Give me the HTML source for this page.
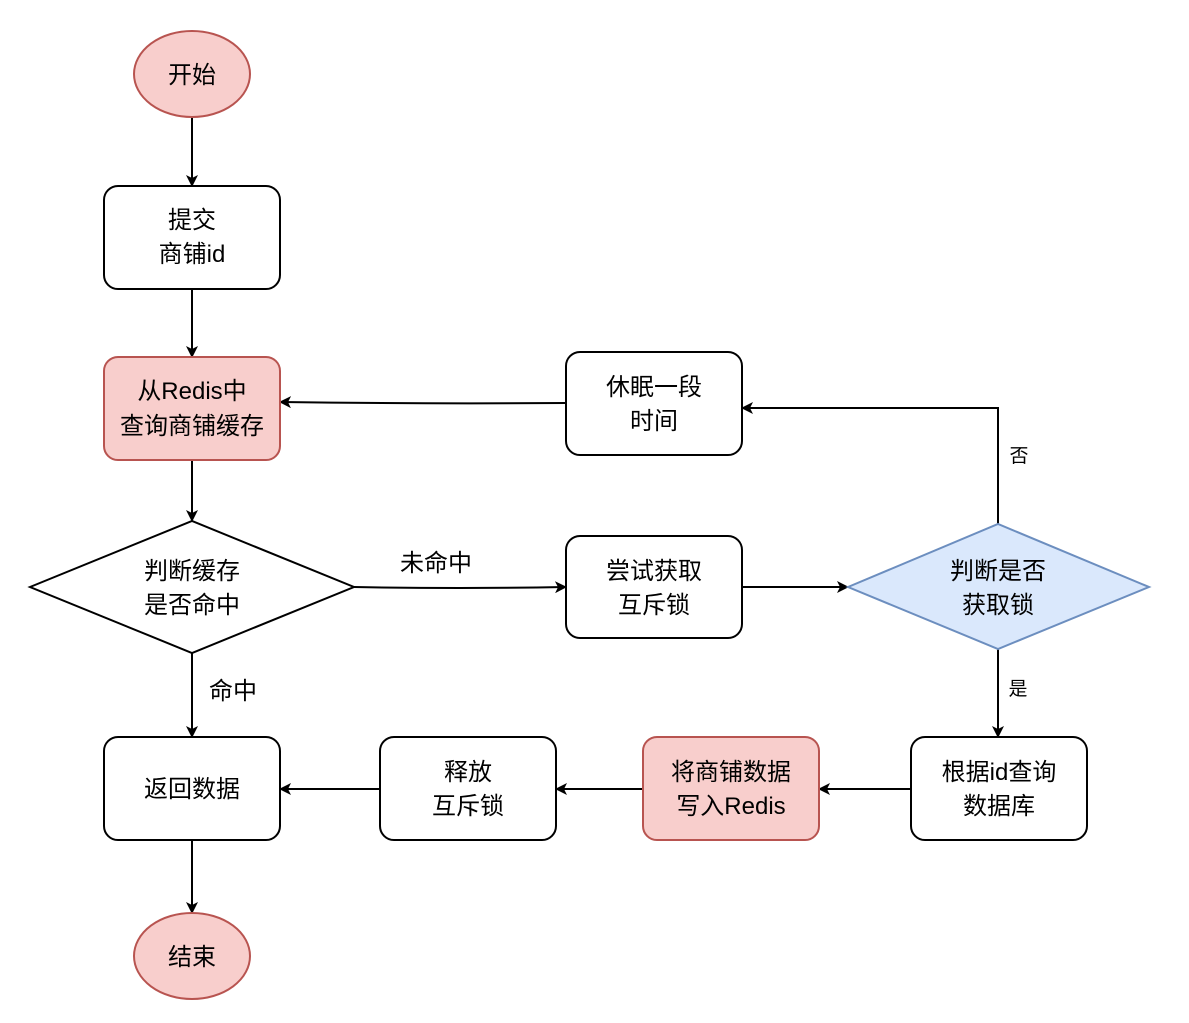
<!DOCTYPE html>
<html><head><meta charset="utf-8"><style>
html,body{margin:0;padding:0;background:#fff;}
svg{display:block;}
text{font-family:"Liberation Sans","Noto Sans CJK SC",sans-serif;fill:#000;}
</style></head><body>
<svg width="1189" height="1023" viewBox="0 0 1189 1023" xmlns="http://www.w3.org/2000/svg">
<defs>
<marker id="a" markerWidth="12" markerHeight="12" refX="10" refY="6" orient="auto" markerUnits="userSpaceOnUse">
<path d="M0,0 L12,6 L0,12 L3,6 Z" fill="#000"/>
</marker>
</defs>
<g stroke="#000" stroke-width="2" fill="none">
<line x1="192" y1="117" x2="192" y2="185" marker-end="url(#a)"/>
<line x1="192" y1="289" x2="192" y2="356" marker-end="url(#a)"/>
<line x1="192" y1="460" x2="192" y2="520" marker-end="url(#a)"/>
<line x1="192" y1="653" x2="192" y2="736" marker-end="url(#a)"/>
<line x1="192" y1="840" x2="192" y2="912" marker-end="url(#a)"/>
<path d="M354,587 Q460,589 565,587" marker-end="url(#a)"/>
<line x1="742" y1="587" x2="847" y2="587" marker-end="url(#a)"/>
<polyline points="998,524 998,408 743,408" marker-end="url(#a)"/>
<path d="M566,403 Q420,404 281,402" marker-end="url(#a)"/>
<line x1="998" y1="649" x2="998" y2="736" marker-end="url(#a)"/>
<line x1="911" y1="789" x2="820" y2="789" marker-end="url(#a)"/>
<line x1="643" y1="789" x2="557" y2="789" marker-end="url(#a)"/>
<line x1="380" y1="789" x2="281" y2="789" marker-end="url(#a)"/>
</g>
<g stroke-width="2">
<ellipse cx="192" cy="74" rx="58" ry="43" fill="#f8cecc" stroke="#b85450"/>
<rect x="104" y="186" width="176" height="103" rx="14" fill="#fff" stroke="#000"/>
<rect x="104" y="357" width="176" height="103" rx="14" fill="#f8cecc" stroke="#b85450"/>
<polygon points="30,587 192,521 354,587 192,653" fill="#fff" stroke="#000"/>
<rect x="104" y="737" width="176" height="103" rx="14" fill="#fff" stroke="#000"/>
<ellipse cx="192" cy="956" rx="58" ry="43" fill="#f8cecc" stroke="#b85450"/>
<rect x="566" y="352" width="176" height="103" rx="14" fill="#fff" stroke="#000"/>
<rect x="566" y="536" width="176" height="102" rx="14" fill="#fff" stroke="#000"/>
<polygon points="848,587 998,524 1149,587 998,649" fill="#dae8fc" stroke="#6c8ebf"/>
<rect x="911" y="737" width="176" height="103" rx="14" fill="#fff" stroke="#000"/>
<rect x="643" y="737" width="176" height="103" rx="14" fill="#f8cecc" stroke="#b85450"/>
<rect x="380" y="737" width="176" height="103" rx="14" fill="#fff" stroke="#000"/>
</g>
<g font-size="24" text-anchor="middle">
<text x="192" y="83">开始</text>
<text x="192" y="228">提交</text><text x="192" y="262">商铺id</text>
<text x="192" y="399">从Redis中</text><text x="192" y="434">查询商铺缓存</text>
<text x="192" y="579">判断缓存</text><text x="192" y="613">是否命中</text>
<text x="192" y="797">返回数据</text>
<text x="192" y="965">结束</text>
<text x="654" y="395">休眠一段</text><text x="654" y="429">时间</text>
<text x="654" y="579">尝试获取</text><text x="654" y="613">互斥锁</text>
<text x="998" y="579">判断是否</text><text x="998" y="613">获取锁</text>
<text x="999" y="780">根据id查询</text><text x="999" y="814">数据库</text>
<text x="731" y="780">将商铺数据</text><text x="731" y="814">写入Redis</text>
<text x="468" y="780">释放</text><text x="468" y="814">互斥锁</text>
<text x="233" y="699">命中</text>
<text x="436" y="571">未命中</text>
</g>
<g font-size="19" text-anchor="middle">
<text x="1019" y="462">否</text>
<text x="1018" y="695">是</text>
</g>
</svg>
</body></html>
